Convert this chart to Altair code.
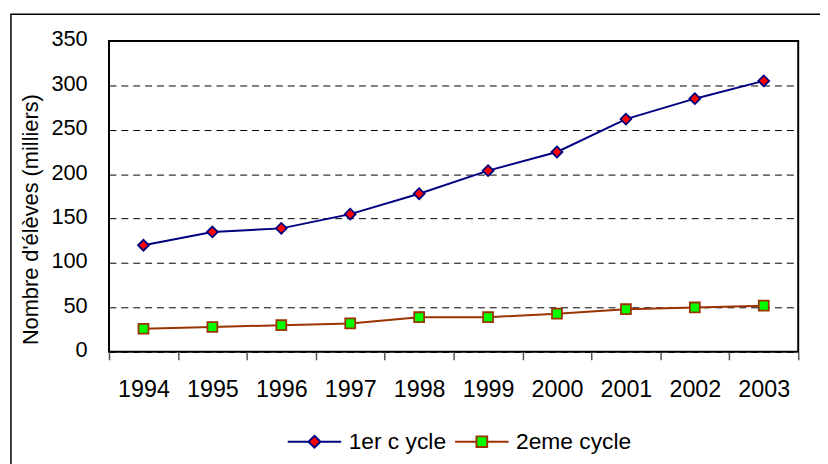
import altair as alt
import pandas as pd

years = [1994, 1995, 1996, 1997, 1998, 1999, 2000, 2001, 2002, 2003]
cycle1 = [120, 135, 139, 155, 178, 204, 225, 262, 285, 305]
cycle2 = [26, 28, 30, 32, 39, 39, 43, 48, 50, 52]
series_names = ["1er c ycle", "2eme cycle"]
line_colors = ["#000080", "#993300"]
fill_colors = ["#FF0000", "#00FF00"]
y_ticks = [0, 50, 100, 150, 200, 250, 300, 350]
y_title = "Nombre d'élèves (milliers)"

FONT = "Liberation Sans"

df = pd.DataFrame({
    "year": [str(y) for y in years] * 2,
    "value": cycle1 + cycle2,
    "series": [series_names[0]] * len(years) + [series_names[1]] * len(years),
})

xenc = alt.X(
    "year:O",
    scale=alt.Scale(type="band", paddingInner=0, paddingOuter=0),
    bandPosition=0.5,
    axis=alt.Axis(
        title=None, labelAngle=0, tickBand="extent", ticks=True, tickSize=8,
        tickColor="#555555", tickWidth=1.5, domain=False, grid=False,
        labelFont=FONT, labelFontSize=23.5, labelColor="black", labelPadding=18,
    ),
)
yenc = alt.Y(
    "value:Q",
    scale=alt.Scale(domain=[0, 350], nice=False, zero=True),
    axis=alt.Axis(
        values=y_ticks, title=y_title, grid=True, gridDash=[7, 5],
        gridColor="black", gridWidth=1, ticks=False, domain=False,
        labelFont=FONT, labelFontSize=22, labelColor="black", labelPadding=22,
        labelOffset=-2,
        titleFont=FONT, titleFontSize=22, titleFontWeight="normal",
        titleColor="black", titleX=-72, titleY=180, titleBaseline="alphabetic",
        titleAngle=-90,
    ),
)

legend_paths = [
    "M-4.5,0L-1,0M1,0L4.5,0M0,-1L1,0L0,1L-1,0Z",
    "M-4.5,0L-0.9,0M0.9,0L4.5,0M-0.9,-0.9L0.9,-0.9L0.9,0.9L-0.9,0.9Z",
]
leg = alt.Legend(
    orient="none", legendX=196, legendY=393, direction="horizontal",
    title=None, labelFont=FONT, labelFontSize=23, labelColor="black",
    labelOffset=23, columnPadding=4, symbolSize=144, symbolStrokeWidth=2,
    symbolOpacity=1,
)

stroke_scale = alt.Scale(domain=series_names, range=line_colors)
fill_scale = alt.Scale(domain=series_names, range=fill_colors)
shape_scale = alt.Scale(domain=series_names, range=legend_paths)

stroke_enc = alt.Stroke("series:N", scale=stroke_scale, legend=leg)
fill_enc = alt.Fill("series:N", scale=fill_scale, legend=leg)

base = alt.Chart(df)

lines = base.mark_line(strokeWidth=2).encode(
    x=xenc, y=yenc, stroke=stroke_enc,
)

diamonds = base.transform_filter(
    alt.datum.series == series_names[0]
).mark_point(shape="diamond", filled=True, size=120, strokeWidth=1.8, opacity=1).encode(
    x=xenc, y=yenc, fill=fill_enc, stroke=stroke_enc,
)

squares = base.transform_filter(
    alt.datum.series == series_names[1]
).mark_point(shape="square", filled=True, size=100, strokeWidth=1.8, opacity=1).encode(
    x=xenc, y=yenc, fill=fill_enc, stroke=stroke_enc,
)

legend_layer = base.transform_filter("false").mark_point(
    filled=True, opacity=1, strokeWidth=2
).encode(
    x=xenc, y=yenc, fill=fill_enc, stroke=stroke_enc,
    shape=alt.Shape("series:N", scale=shape_scale, legend=leg),
)

frame = alt.Chart(alt.Data(values=[{"a": 1}])).mark_rect(
    filled=False, stroke="black", strokeWidth=1.5
).encode(
    x=alt.value(-99), x2=alt.value(740), y=alt.value(-27), y2=alt.value(450)
)

chart = alt.layer(frame, lines, diamonds, squares, legend_layer).properties(
    width=696, height=314,
    padding={"left": 102, "top": 31, "right": 22, "bottom": 111},
    autosize=alt.AutoSizeParams(type="none"),
).configure_view(stroke="black", strokeWidth=2)

chart.save("out.html", embed_options={"renderer": "svg", "actions": False})
